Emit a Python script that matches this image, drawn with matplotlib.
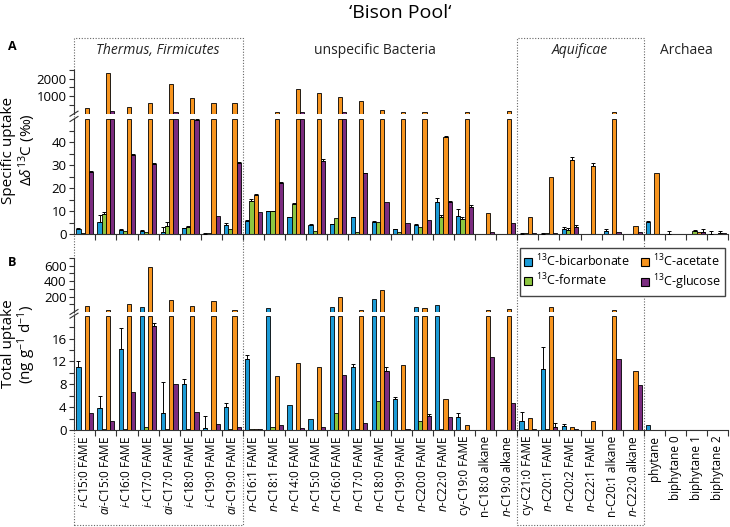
import numpy as np
import matplotlib.pyplot as plt
from matplotlib.patches import Rectangle, Patch
from matplotlib.lines import Line2D

plt.rcParams['font.family'] = ['Open Sans', 'DejaVu Sans']
plt.rcParams['mathtext.fontset'] = 'custom'
plt.rcParams['mathtext.rm'] = 'Open Sans'
plt.rcParams['mathtext.it'] = 'Open Sans:italic'

W, H = 730, 527

lipids = [r'$\mathit{i}$-C15:0 FAME', r'$\mathit{ai}$-C15:0 FAME', r'$\mathit{i}$-C16:0 FAME',
          r'$\mathit{i}$-C17:0 FAME', r'$\mathit{ai}$-C17:0 FAME', r'$\mathit{i}$-C18:0 FAME',
          r'$\mathit{i}$-C19:0 FAME', r'$\mathit{ai}$-C19:0 FAME',
          r'$\mathit{n}$-C16:1 FAME', r'$\mathit{n}$-C18:1 FAME', r'$\mathit{n}$-C14:0 FAME',
          r'$\mathit{n}$-C15:0 FAME', r'$\mathit{n}$-C16:0 FAME', r'$\mathit{n}$-C17:0 FAME',
          r'$\mathit{n}$-C18:0 FAME', r'$\mathit{n}$-C19:0 FAME', r'$\mathit{n}$-C20:0 FAME',
          r'$\mathit{n}$-C22:0 FAME', 'cy-C19:0 FAME', 'n-C18:0 alkane', r'$\mathit{n}$-C19:0 alkane',
          'cy-C21:0 FAME', r'$\mathit{n}$-C20:1 FAME', r'$\mathit{n}$-C20:2 FAME',
          r'$\mathit{n}$-C22:1 FAME', 'n-C20:1 alkane', r'$\mathit{n}$-C22:0 alkane',
          'phytane', 'biphytane 0', 'biphytane 1', 'biphytane 2']

series = ['$^{13}$C-bicarbonate', '$^{13}$C-formate', '$^{13}$C-acetate', '$^{13}$C-glucose']
colors = ['#1B9BD7', '#8DC640', '#F7941E', '#7B2C80']

# A: specific uptake (permil)
spec_bicarb = [2.5, 5.2, 1.7, 1.3, 1.0, 2.6, 0.3, 4.2, 5.8, 9.9, 7.4, 4.1, 4.3, 7.4, 5.4, 2.2,
               4.1, 13.9, 8.1, 0, 0.3, 0.3, 0.3, 2.2, 0, 1.3, 0, 5.5, 0.2, 0, 0.3]
spec_bicarb_err = [0.3, 3.2, 0.5, 0.7, 2.3, 0.3, 0.2, 0.8, 0.3, 0.2, 0.2, 0.3, 0.2, 0.2, 0.2, 0.2,
                   0.2, 2.0, 2.8, 0, 0, 0.1, 0.1, 1.1, 0, 0.9, 0, 0.3, 1.4, 0, 1.0]
spec_formate = [0.5, 8.7, 1.6, 1.0, 3.6, 3.3, 0.6, 2.2, 14.3, 10.1, 13.0, 1.4, 7.1, 1.0, 5.4, 0.9,
                3.3, 7.7, 6.7, 0, 0, 0.4, 0.6, 1.7, 0, 0, 0, 0, 0, 1.6, 0]
spec_formate_err = [0, 1.0, 0, 0, 1.9, 0.2, 0, 0, 0.9, 0.2, 0.4, 0, 0, 0, 0, 0,
                    0, 0.7, 0.8, 0, 0, 0, 0, 1.2, 0, 0, 0, 0, 0, 0.4, 0]
spec_acetate = [340, 2290, 380, 600, 1690, 890, 600, 590, 17.1, 90, 1400, 1150, 930, 720, 190, 90,
                90, 42.2, 90, 9.4, 150, 7.4, 24.8, 32.3, 29.7, 110, 3.6, 26.7, 0, 1.0, 0.5]
spec_acetate_err = [0, 0, 0, 0, 0, 0, 0, 0, 0.4, 0, 0, 0, 0, 0, 0, 0,
                    0, 0.6, 0, 0, 0, 0, 0, 1.3, 1.2, 0, 0, 0, 0, 0, 0.8]
spec_glucose = [27.0, 150, 34.6, 30.7, 80, 49.4, 8.1, 30.9, 9.6, 22.2, 80, 32.0, 80, 26.4, 14.1, 4.8,
                6.2, 13.9, 11.9, 1.2, 5.1, 0.7, 0.7, 3.0, 0, 0.9, 1.2, 0, 0, 1.2, 0.5]
spec_glucose_err = [0.3, 0, 0.3, 0.3, 0, 0.6, 0, 0.5, 0, 0.4, 0, 0.5, 0, 0.3, 0, 0,
                    0, 0.7, 1.0, 0, 0, 0, 0, 1.0, 0, 0, 0, 0, 0, 1.0, 0]

# B: total uptake (ng g-1 d-1)
tot_bicarb = [11.0, 3.9, 14.1, 60, 2.9, 8.1, 0.3, 4.0, 12.5, 48, 4.3, 1.9, 60, 11.0, 174, 5.5,
              69, 90, 2.2, 0, 0, 1.6, 10.7, 0.7, 0, 0, 0, 0.8, 0, 0, 0]
tot_bicarb_err = [1.0, 2.0, 3.8, 0, 5.5, 0.8, 2.2, 0.7, 0.7, 0, 0, 0, 0, 0.5, 0, 0.3,
                  0, 0, 0.7, 0, 0, 1.6, 3.8, 0.4, 0, 0, 0, 0, 0, 0, 0]
tot_formate = [0, 0.1, 0.2, 0.6, 0.2, 0.2, 0, 0.1, 0.1, 0.6, 0, 0, 2.9, 0.1, 5.0, 0,
               1.6, 0.2, 0, 0, 0, 0.1, 0.2, 0, 0, 0, 0, 0, 0, 0, 0]
tot_formate_err = [0] * 31
tot_acetate = [73, 27, 103, 580, 157, 81, 145, 27, 0.25, 9.4, 11.7, 11.0, 200, 30, 288, 11.3,
               48, 5.5, 0.8, 30, 39, 2.1, 60, 0.6, 1.6, 27, 10.4, 0, 0, 0, 0]
tot_acetate_err = [0] * 31
tot_glucose = [2.9, 1.5, 6.6, 18.2, 8.1, 3.2, 1.1, 0.5, 0.15, 0.9, 0.4, 0.5, 9.6, 1.2, 10.4, 0.2,
               2.5, 2.2, 0, 12.7, 4.7, 0.2, 0.5, 0.1, 0, 12.4, 7.9, 0, 0, 0, 0]
tot_glucose_err = [0, 0, 0, 0.6, 0, 0, 0, 0, 0, 0, 0, 0, 0, 0, 0.6, 0,
                   0.3, 0, 0, 0, 0, 0, 0.8, 0, 0, 0, 0, 0, 0, 0, 0]

groups = ['Thermus, Firmicutes', 'unspecific Bacteria', 'Aquificae', 'Archaea']


def rect(x0, y0, x1, y1):
    # pixel box (top-left origin) -> figure fraction [left, bottom, width, height]
    return [x0 / W, 1 - y1 / H, (x1 - x0) / W, (y1 - y0) / H]


fig = plt.figure(figsize=(7.3, 5.27), dpi=100)
n = len(lipids)
x = np.arange(n)
offsets = [-0.3, -0.1, 0.1, 0.3]
width = 0.2


def draw_panel(lo_box, hi_box, lo_top, hi_top, data, errs, lo_ticks, lo_show, hi_ticks, hi_show, labels):
    ax_lo = fig.add_axes(rect(*lo_box))
    ax_hi = fig.add_axes(rect(*hi_box))
    for ax in (ax_lo, ax_hi):
        ax.set_facecolor('none')
        ax.set_xlim(-0.5, n - 0.5)
        for s in ('top', 'right'):
            ax.spines[s].set_visible(False)
        ax.spines['left'].set_color('#333333')
        ax.tick_params(axis='y', length=3.5, width=0.8, color='#333333', labelsize=9.5, pad=2)
    for i, (vals, err, col) in enumerate(zip(data, errs, colors)):
        v = np.array(vals, dtype=float)
        e = np.array(err, dtype=float)
        pos = x + offsets[i]
        ax_lo.bar(pos, np.minimum(v, lo_top), width, color=col, edgecolor='black', linewidth=0.6, zorder=2)
        m = v > lo_top
        ax_hi.bar(pos[m], v[m], width, color=col, edgecolor='black', linewidth=0.6, zorder=2)
        em = (e > 0) & (v <= lo_top)
        ax_lo.errorbar(pos[em], v[em], yerr=[np.zeros(em.sum()), e[em]], fmt='none',
                       ecolor='black', elinewidth=0.7, capsize=1.6, capthick=0.7, zorder=3)
    ax_lo.set_ylim(0, lo_top)
    ax_lo.set_yticks(lo_ticks)
    ax_lo.set_yticklabels([str(t) if t in lo_show else '' for t in lo_ticks])
    ax_hi.set_ylim(0, hi_top)
    ax_hi.set_yticks(hi_ticks)
    ax_hi.set_yticklabels([str(t) if t in hi_show else '' for t in hi_ticks])
    ax_hi.spines['bottom'].set_visible(False)
    ax_hi.set_xticks([])
    ax_lo.spines['bottom'].set_color('#333333')
    ax_lo.set_xticks(x)
    ax_lo.set_xticks(np.arange(0.5, n), minor=True)
    ax_lo.tick_params(axis='x', which='major', length=0, pad=4)
    ax_lo.tick_params(axis='x', which='minor', length=4, width=0.8, color='#333333')
    if labels:
        ax_lo.set_xticklabels(lipids, rotation=90, fontsize=8.5)
    else:
        ax_lo.set_xticklabels([])
    # axis break marks
    for yb in (lo_box[1], hi_box[3]):
        fig.add_artist(Line2D([70 / W, 78 / W], [1 - (yb + 2.5) / H, 1 - (yb - 2.5) / H],
                              color='#333333', lw=0.8))
    return ax_lo, ax_hi


draw_panel((74.2, 119, 728.3, 234.3), (74.2, 69.7, 728.3, 113.7), 50, 2500,
           [spec_bicarb, spec_formate, spec_acetate, spec_glucose],
           [spec_bicarb_err, spec_formate_err, spec_acetate_err, spec_glucose_err],
           list(range(0, 50, 5)), [0, 10, 20, 30, 40],
           list(range(500, 2501, 500)), [1000, 2000], False)

draw_panel((74.2, 315.7, 728.3, 430), (74.2, 258, 728.3, 312), 20, 700,
           [tot_bicarb, tot_formate, tot_acetate, tot_glucose],
           [tot_bicarb_err, tot_formate_err, tot_acetate_err, tot_glucose_err],
           list(range(0, 19, 2)), [0, 4, 8, 12, 16],
           list(range(100, 701, 100)), [200, 400, 600], True)

# dotted group boxes
for x0, x1 in ((74, 243), (517, 644)):
    fig.add_artist(Rectangle((x0 / W, 1 - 525 / H), (x1 - x0) / W, (525 - 37.7) / H,
                             fill=False, edgecolor='#666666', linestyle=(0, (1, 1.5)),
                             linewidth=0.8, zorder=-1))

# group labels
for g, cx in zip(groups, (158, 375, 580, 686)):
    style = 'italic' if g in ('Thermus, Firmicutes', 'Aquificae') else 'normal'
    fig.text(cx / W, 1 - 50 / H, g, ha='center', va='center', fontsize=10, style=style, color='#222222')

fig.text(400 / W, 1 - 13 / H, '\u2018Bison Pool\u2018', ha='center', va='center', fontsize=14)
fig.text(12 / W, 1 - 47 / H, 'A', ha='center', va='center', fontsize=9, weight='bold')
fig.text(12 / W, 1 - 263 / H, 'B', ha='center', va='center', fontsize=9, weight='bold')

fig.text(9 / W, 1 - 150 / H, 'Specific uptake', rotation=90, ha='center', va='center', fontsize=11)
fig.text(27 / W, 1 - 150 / H, r'$\Delta\delta^{13}$C (‰)', rotation=90, ha='center', va='center', fontsize=11)
fig.text(9 / W, 1 - 344 / H, 'Total uptake', rotation=90, ha='center', va='center', fontsize=11)
fig.text(27 / W, 1 - 344 / H, '(ng g$^{-1}$ d$^{-1}$)', rotation=90, ha='center', va='center', fontsize=11)

handles = [Patch(facecolor=c, edgecolor='black', linewidth=0.8) for c in colors]
fig.legend(handles, series, loc='center', bbox_to_anchor=(622.5 / W, 1 - 272 / H), ncol=2,
           fontsize=9, frameon=True, fancybox=False, edgecolor='#444444', framealpha=1,
           handlelength=0.6, handleheight=0.6, handletextpad=0.35, columnspacing=0.9,
           labelspacing=0.25, borderpad=0.35)

fig.savefig('out.png', dpi=100)
